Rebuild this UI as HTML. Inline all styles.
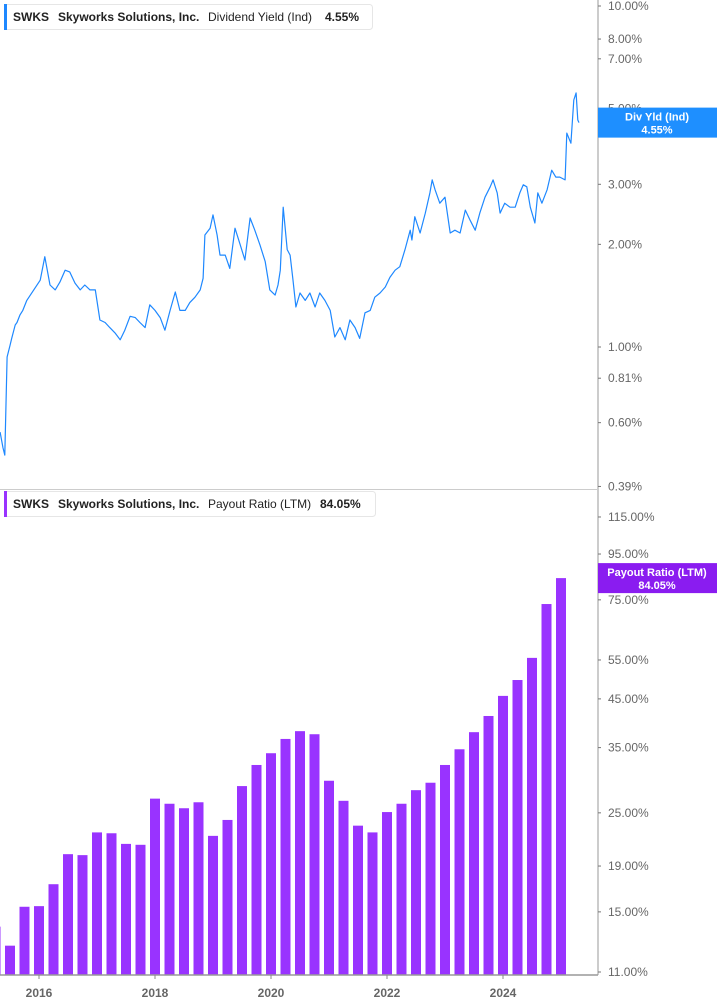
<!DOCTYPE html>
<html><head><meta charset="utf-8"><style>
body{margin:0;background:#fff;font-family:"Liberation Sans",Arial,sans-serif}
svg{display:block}
</style></head><body>
<svg id="c" width="717" height="1005" viewBox="0 0 717 1005" xmlns="http://www.w3.org/2000/svg">
<g id="topPanel"></g>
<g id="botPanel"></g>
</svg>
<script>
// ---- data ----
const yieldDates=[2015.33,2015.38,2015.41,2015.45,2015.50,2015.53,2015.59,2015.62,2015.67,2015.72,2015.79,2016.02,2016.10,2016.19,2016.28,2016.36,2016.45,2016.53,2016.62,2016.71,2016.79,2016.88,2016.97,2017.05,2017.14,2017.22,2017.31,2017.40,2017.48,2017.57,2017.66,2017.74,2017.83,2017.91,2018.00,2018.09,2018.17,2018.26,2018.35,2018.43,2018.52,2018.60,2018.69,2018.78,2018.83,2018.86,2018.95,2019.00,2019.07,2019.12,2019.21,2019.29,2019.38,2019.47,2019.55,2019.64,2019.72,2019.81,2019.90,2019.98,2020.07,2020.12,2020.16,2020.21,2020.28,2020.33,2020.38,2020.43,2020.50,2020.59,2020.67,2020.76,2020.84,2020.93,2021.02,2021.10,2021.19,2021.28,2021.36,2021.45,2021.53,2021.62,2021.71,2021.79,2021.88,2021.97,2022.05,2022.14,2022.22,2022.31,2022.40,2022.43,2022.48,2022.57,2022.66,2022.74,2022.78,2022.83,2022.91,2023.00,2023.09,2023.17,2023.26,2023.35,2023.43,2023.52,2023.60,2023.69,2023.78,2023.83,2023.90,2023.95,2024.03,2024.12,2024.21,2024.29,2024.35,2024.41,2024.47,2024.55,2024.60,2024.67,2024.76,2024.84,2024.91,2024.98,2025.07,2025.10,2025.17,2025.22,2025.26,2025.29,2025.31];
const yieldValues=[0.563,0.506,0.482,0.935,1.01,1.06,1.16,1.18,1.24,1.28,1.37,1.57,1.84,1.52,1.47,1.55,1.68,1.66,1.54,1.47,1.52,1.47,1.47,1.20,1.18,1.14,1.10,1.05,1.12,1.23,1.22,1.18,1.14,1.33,1.28,1.22,1.12,1.28,1.45,1.28,1.28,1.35,1.40,1.47,1.59,2.13,2.23,2.44,2.13,1.86,1.86,1.70,2.23,1.99,1.80,2.39,2.20,1.99,1.78,1.47,1.42,1.52,1.68,2.57,1.93,1.86,1.57,1.31,1.44,1.37,1.44,1.31,1.44,1.37,1.28,1.07,1.14,1.05,1.20,1.14,1.06,1.26,1.28,1.40,1.44,1.50,1.60,1.68,1.72,1.93,2.20,2.06,2.41,2.16,2.47,2.83,3.09,2.89,2.64,2.75,2.16,2.20,2.16,2.52,2.36,2.20,2.47,2.75,2.95,3.09,2.83,2.47,2.64,2.57,2.57,2.83,2.99,2.95,2.57,2.31,2.83,2.64,2.89,3.30,3.15,3.15,3.09,4.24,3.96,5.30,5.56,4.63,4.55];
const yieldTicks=[10,8,7,5,3,2,1,0.81,0.6,0.39];
const payoutDates=[2015.25,2015.5,2015.75,2016.0,2016.25,2016.5,2016.75,2017.0,2017.25,2017.5,2017.75,2018.0,2018.25,2018.5,2018.75,2019.0,2019.25,2019.5,2019.75,2020.0,2020.25,2020.5,2020.75,2021.0,2021.25,2021.5,2021.75,2022.0,2022.25,2022.5,2022.75,2023.0,2023.25,2023.5,2023.75,2024.0,2024.25,2024.5,2024.75,2025.0];
const payoutValues=[13.9,12.6,15.4,15.45,17.3,20.2,20.1,22.6,22.5,21.3,21.2,26.9,26.2,25.6,26.4,22.2,24.1,28.7,32.0,34.0,36.6,38.1,37.5,29.5,26.6,23.4,22.6,25.1,26.2,28.1,29.2,32.0,34.7,37.9,41.2,45.7,49.6,55.6,73.4,83.9];
const payoutTicks=[115,95,75,55,45,35,25,19,15,11];
const yearTicks=[2016,2018,2020,2022,2024];

// ---- axes ----
const NS="http://www.w3.org/2000/svg";
const xS=y=>39+(y-2016)*58;
const yTop=v=>347-Math.log10(v)*341;
const yBot=v=>972-Math.log10(v/11)*446.4;
function mk(p,t,a,txt){const e=document.createElementNS(NS,t);for(const k in a)e.setAttribute(k,a[k]);if(txt!=null)e.textContent=txt;p.appendChild(e);return e;}
const topG=document.getElementById('topPanel'),botG=document.getElementById('botPanel');
const fmt=v=>v.toFixed(2)+'%';

// top axis
let ax=mk(topG,'line',{x1:598,y1:0,x2:598,y2:490,stroke:'#999','stroke-width':1});


let bl=mk(topG,'line',{x1:0,y1:489.5,x2:598,y2:489.5,stroke:'#ccc','stroke-width':1});


yieldTicks.forEach(v=>{const y=yTop(v);
 mk(topG,'line',{x1:598,y1:y,x2:601,y2:y,stroke:'#777'});
 const t=mk(topG,'text',{x:608,y:y+4,'font-size':12,fill:'#666'},fmt(v));
 
 });
let d='';yieldDates.forEach((t,i)=>{d+=(i?'L':'M')+xS(t).toFixed(1)+' '+yTop(yieldValues[i]).toFixed(1);});
const ln=mk(topG,'path',{d:d,fill:'none',stroke:'#1e88ff','stroke-width':1.2,'stroke-linejoin':'round'});


const lastY=yieldValues[yieldValues.length-1];
const tg=mk(topG,'g',{});


const ty=yTop(lastY);
mk(tg,'rect',{x:598,y:ty-15,width:119,height:30,fill:'#1e8fff'});
mk(tg,'text',{x:657,y:ty-2,'font-size':11,'font-weight':'bold',fill:'#fff','text-anchor':'middle'},'Div Yld (Ind)');
mk(tg,'text',{x:657,y:ty+11,'font-size':11,'font-weight':'bold',fill:'#fff','text-anchor':'middle'},fmt(lastY));
const lg=mk(topG,'g',{});


mk(lg,'rect',{x:4.5,y:4.5,width:368,height:25,rx:3,fill:'#fff',stroke:'#e6e6e6'});
mk(lg,'rect',{x:4,y:4,width:3,height:26,fill:'#1e88ff'});
mk(lg,'text',{x:13,y:21,'font-size':12,'font-weight':'bold',fill:'#222'},'SWKS');
mk(lg,'text',{x:58,y:21,'font-size':12,'font-weight':'bold',fill:'#222'},'Skyworks Solutions, Inc.');
mk(lg,'text',{x:208,y:21,'font-size':12,fill:'#222'},'Dividend Yield (Ind)');
mk(lg,'text',{x:325,y:21,'font-size':12,'font-weight':'bold',fill:'#222'},'4.55%');

// bottom
ax=mk(botG,'line',{x1:598,y1:490,x2:598,y2:975,stroke:'#999'});


payoutTicks.forEach(v=>{const y=yBot(v);
 mk(botG,'line',{x1:598,y1:y,x2:601,y2:y,stroke:'#777'});
 const t=mk(botG,'text',{x:608,y:y+4,'font-size':12,fill:'#666'},fmt(v));
 
 });
payoutDates.forEach((t,i)=>{const cx=xS(t),y=yBot(payoutValues[i]);
 const r=mk(botG,'rect',{x:cx-5,y:y,width:10,height:975-y,fill:'#9933ff'});
 
 });
const xa=mk(botG,'line',{x1:0,y1:975,x2:598,y2:975,stroke:'#999','stroke-width':1.5});


yearTicks.forEach(yr=>{const x=xS(yr);
 mk(botG,'line',{x1:x,y1:975,x2:x,y2:979,stroke:'#888'});
 const t=mk(botG,'text',{x:x,y:997,'font-size':12,'font-weight':'bold',fill:'#666','text-anchor':'middle'},String(yr));
 
 });
const lastP=payoutValues[payoutValues.length-1];
const pg=mk(botG,'g',{});


const py=yBot(lastP);
mk(pg,'rect',{x:598,y:py-15,width:119,height:30,fill:'#8a1cf0'});
mk(pg,'text',{x:657,y:py-2,'font-size':11,'font-weight':'bold',fill:'#fff','text-anchor':'middle'},'Payout Ratio (LTM)');
mk(pg,'text',{x:657,y:py+11,'font-size':11,'font-weight':'bold',fill:'#fff','text-anchor':'middle'},'84.05%');
const pl=mk(botG,'g',{});


mk(pl,'rect',{x:4.5,y:491.5,width:371,height:25,rx:3,fill:'#fff',stroke:'#e6e6e6'});
mk(pl,'rect',{x:4,y:491,width:3,height:26,fill:'#9933ff'});
mk(pl,'text',{x:13,y:508,'font-size':12,'font-weight':'bold',fill:'#222'},'SWKS');
mk(pl,'text',{x:58,y:508,'font-size':12,'font-weight':'bold',fill:'#222'},'Skyworks Solutions, Inc.');
mk(pl,'text',{x:208,y:508,'font-size':12,fill:'#222'},'Payout Ratio (LTM)');
mk(pl,'text',{x:320,y:508,'font-size':12,'font-weight':'bold',fill:'#222'},'84.05%');
</script>
</body></html>
